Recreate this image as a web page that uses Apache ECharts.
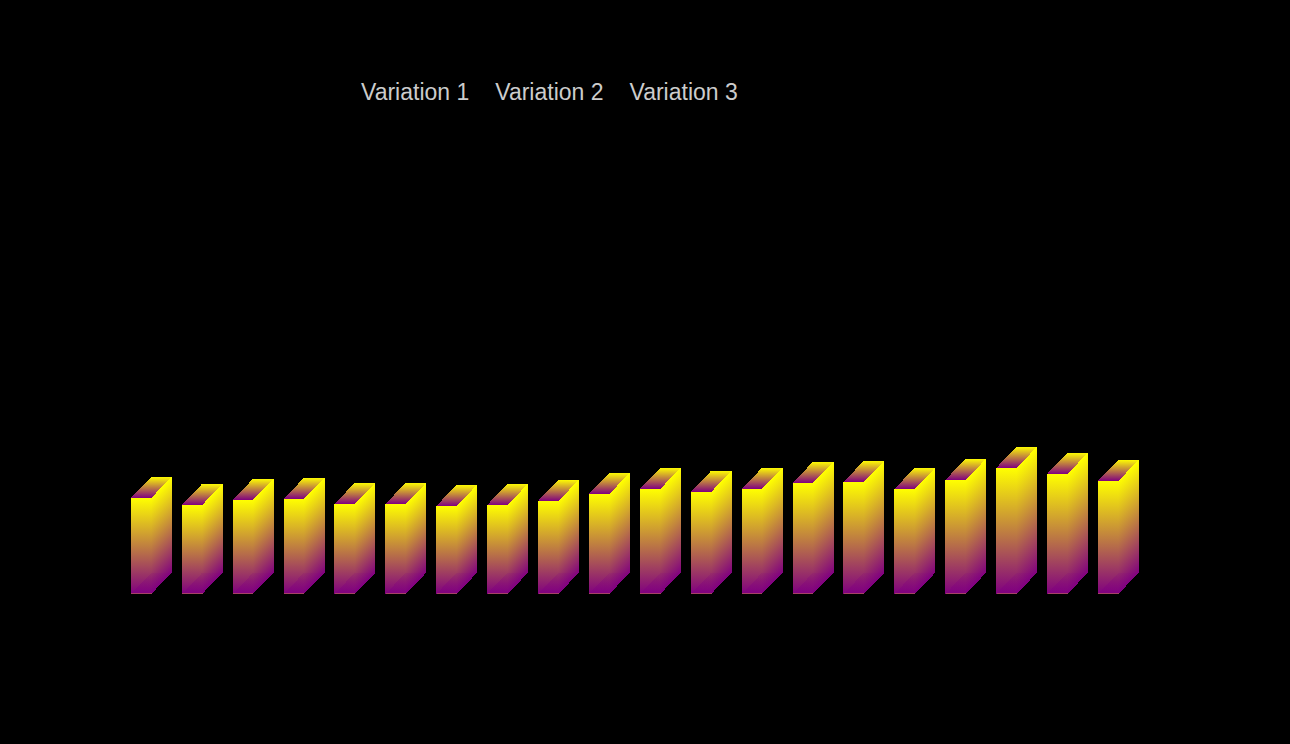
<!DOCTYPE html>
<html><head><meta charset="utf-8">
<style>html,body{margin:0;padding:0;background:#000}#c{width:1290px;height:744px}#c svg path{shape-rendering:crispEdges}</style>
<script src="https://cdn.jsdelivr.net/npm/echarts@6/dist/echarts.min.js"></script>
</head><body><div id="c"></div>
<script>
const categories = ['1','2','3','4','5','6','7','8','9','10','11','12','13','14','15','16','17','18','19','20'];
const seriesNames = ['Variation 1','Variation 2','Variation 3'];
const variation1 = [96,89,94,95,90,90,88,89,93,100,105,102,105,111,112,105,114,126,120,113];
const variation2 = [];
const variation3 = [];
const YELLOW = '#ffff00', PURPLE = '#800080';

function grad(x0,y0,x1,y1,stops){
  return {type:'linear',global:true,x:x0,y:y0,x2:x1,y2:y1,
    colorStops:stops.map(s=>({offset:s[0],color:s[1]}))};
}
function renderBar(params, api){
  const band = api.size([1,0])[0];
  const top = api.coord([api.value(0), api.value(1)]);
  const base = api.coord([api.value(0), 0]);
  const w = band*0.40, d = band*0.405, dy = band*0.42;
  const xl = top[0]-band*0.405, xr = xl+w;
  const yt = top[1], yb = base[1];
  const poly = (pts,fill)=>({type:'polygon',shape:{points:pts},style:{fill:fill},silent:true});
  const m = dy/2;
  const h = yb-yt;
  return {type:'group',children:[
    poly([[xl,yt],[xr,yt],[xr,yb],[xl,yb]], grad(xl,yt,xl,yb,[[0,YELLOW],[1,PURPLE]])),
    poly([[xr,yt],[xr+d,yt-dy],[xr+d,yb-dy],[xr,yb]],
      grad(xr+m,yt-m,xr+m+h/2,yt-m+h/2,[[0,YELLOW],[1,PURPLE]])),
    poly([[xl,yt],[xr,yt],[xr+d,yt-dy],[xl+d,yt-dy]], grad(xl,yt,xl,yt-dy,[[0,PURPLE],[1,YELLOW]])),
    poly([[xl,yb],[xr,yb],[xr+d,yb-dy],[xl+d,yb-dy]], grad(xl,yb-dy,xl,yb,[[0,'rgba(128,0,128,0.12)'],[0.95,'rgba(128,0,128,0.5)'],[1,'#e0a040']]))
  ]};
}
function makeSeries(name,vals){
  return {name:name,type:'custom',renderItem:renderBar,
    itemStyle:{color:'transparent'},
    encode:{x:0,y:1},data:vals.map((v,i)=>[i,v])};
}
const chart = echarts.init(document.getElementById('c'),null,{renderer:'svg'});
chart.setOption({
  backgroundColor:'#000',
  animation:false,
  legend:{data:seriesNames,left:361,top:80,icon:'rect',itemWidth:0,itemHeight:0,itemGap:26,padding:0,
    textStyle:{color:'#ccc',fontSize:23,fontFamily:'Arial, "Liberation Sans", sans-serif',padding:[0,0,0,-5]}},
  grid:{left:126,width:1018,top:60,bottom:150},
  xAxis:{type:'category',data:categories,show:false},
  yAxis:{type:'value',min:0,max:534,show:false},
  series:[makeSeries(seriesNames[0],variation1),makeSeries(seriesNames[1],variation2),makeSeries(seriesNames[2],variation3)]
});
</script></body></html>
